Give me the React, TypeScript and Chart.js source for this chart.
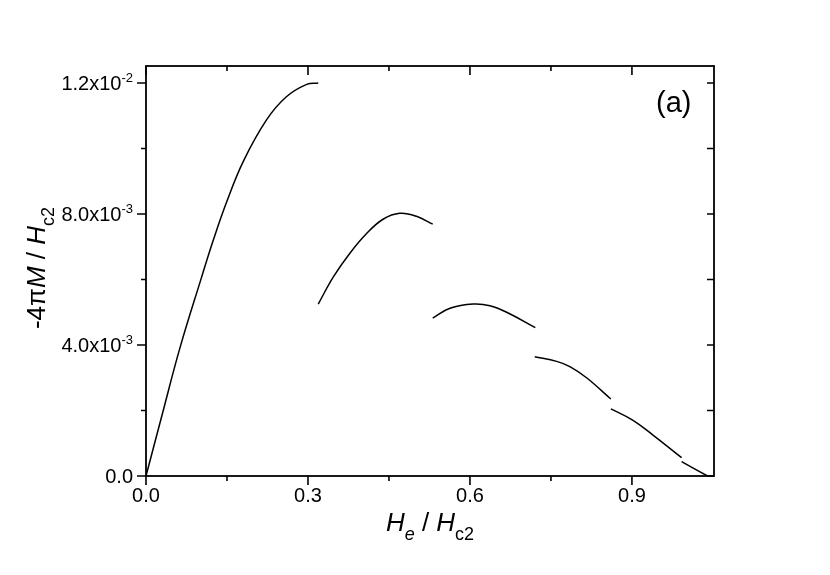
import React, { useEffect, useRef } from "react";
import { Chart, registerables } from "chart.js";

Chart.register(...registerables);

// ---- data ----
const seg1X = [0, 0.03, 0.063, 0.102, 0.125, 0.149, 0.18, 0.2235, 0.26, 0.2976, 0.319];
const seg1Y = [0, 0.00188, 0.00392, 0.00602, 0.00722, 0.00835, 0.00960, 0.01088, 0.01158, 0.01196, 0.0120];
const seg2X = [0.319, 0.347, 0.378, 0.409, 0.439, 0.47, 0.501, 0.531];
const seg2Y = [0.00525, 0.00608, 0.00681, 0.00741, 0.00784, 0.00802, 0.00793, 0.00769];
const seg3X = [0.531, 0.563, 0.606, 0.637, 0.668, 0.721];
const seg3Y = [0.00482, 0.00512, 0.00525, 0.00520, 0.00500, 0.00453];
const seg4X = [0.72, 0.7606, 0.785, 0.816, 0.861];
const seg4Y = [0.00364, 0.00350, 0.00334, 0.00300, 0.00235];
const seg5X = [0.861, 0.902, 0.939, 0.992];
const seg5Y = [0.00205, 0.00170, 0.00125, 0.00056];
const seg6X = [0.992, 1.04];
const seg6Y = [0.00044, 0];

const xMajorTicks = [0, 0.3, 0.6, 0.9];
const xMinorTicks = [0.15, 0.45, 0.75];
const xTickLabels = ["0.0", "0.3", "0.6", "0.9"];
const yMajorTicks = [0, 0.004, 0.008, 0.012];
const yMinorTicks = [0.002, 0.006, 0.01];
const yTickMantissas = ["0.0", "4.0x10", "8.0x10", "1.2x10"];
const yTickExponents = ["", "-3", "-3", "-2"];

const X_MIN = 0;
const X_MAX = 1.052;
const Y_MIN = 0;
const Y_MAX = 0.01252;

const FONT = '"Liberation Sans", Arial, sans-serif';

type Part = { t: string; size: number; italic?: boolean; dy?: number };

function drawRich(ctx: CanvasRenderingContext2D, parts: Part[], x: number, y: number, align: "left" | "center" | "right") {
  const widths = parts.map((p) => {
    ctx.font = `${p.italic ? "italic " : ""}${p.size}px ${FONT}`;
    return ctx.measureText(p.t).width;
  });
  const total = widths.reduce((a, b) => a + b, 0);
  let cx = align === "left" ? x : align === "center" ? x - total / 2 : x - total;
  ctx.textAlign = "left";
  ctx.textBaseline = "alphabetic";
  parts.forEach((p, i) => {
    ctx.font = `${p.italic ? "italic " : ""}${p.size}px ${FONT}`;
    ctx.fillText(p.t, cx, y + (p.dy || 0));
    cx += widths[i];
  });
}

const framePlugin = {
  id: "originFrame",
  afterDraw(chart: any) {
    const ctx: CanvasRenderingContext2D = chart.ctx;
    const xs = chart.scales.x;
    const ys = chart.scales.y;
    const { left, right, top, bottom } = chart.chartArea;
    ctx.save();
    ctx.strokeStyle = "#000";
    ctx.fillStyle = "#000";
    ctx.lineWidth = 1.8;
    ctx.strokeRect(left, top, right - left, bottom - top);

    const majorLen = 9;
    const minorLen = 5;
    ctx.lineWidth = 1.6;
    ctx.beginPath();
    xMajorTicks.forEach((v) => {
      const px = xs.getPixelForValue(v);
      ctx.moveTo(px, bottom);
      ctx.lineTo(px, bottom + majorLen);
      ctx.moveTo(px, top);
      ctx.lineTo(px, top + majorLen);
    });
    xMinorTicks.forEach((v) => {
      const px = xs.getPixelForValue(v);
      ctx.moveTo(px, bottom);
      ctx.lineTo(px, bottom + minorLen);
      ctx.moveTo(px, top);
      ctx.lineTo(px, top + minorLen);
    });
    yMajorTicks.forEach((v) => {
      const py = ys.getPixelForValue(v);
      ctx.moveTo(left, py);
      ctx.lineTo(left - majorLen, py);
      ctx.moveTo(right, py);
      ctx.lineTo(right - 7, py);
    });
    yMinorTicks.forEach((v) => {
      const py = ys.getPixelForValue(v);
      ctx.moveTo(left, py);
      ctx.lineTo(left - minorLen, py);
      ctx.moveTo(right, py);
      ctx.lineTo(right - 7, py);
    });
    ctx.stroke();

    // x tick labels
    xMajorTicks.forEach((v, i) => {
      const px = xs.getPixelForValue(v);
      drawRich(ctx, [{ t: xTickLabels[i], size: 20 }], px, bottom + 26, "center");
    });
    // y tick labels
    yMajorTicks.forEach((v, i) => {
      const py = ys.getPixelForValue(v);
      const parts: Part[] = [{ t: yTickMantissas[i], size: 20 }];
      if (yTickExponents[i]) parts.push({ t: yTickExponents[i], size: 13, dy: -8 });
      drawRich(ctx, parts, left - 13, py + 7, "right");
    });

    // x title
    drawRich(
      ctx,
      [
        { t: "H", size: 26, italic: true },
        { t: "e", size: 18, italic: true, dy: 9 },
        { t: " / ", size: 26 },
        { t: "H", size: 26, italic: true },
        { t: "c2", size: 18, dy: 9 },
      ],
      (left + right) / 2,
      531,
      "center"
    );

    // y title
    ctx.save();
    ctx.translate(45, (top + bottom) / 2 - 3);
    ctx.rotate(-Math.PI / 2);
    drawRich(
      ctx,
      [
        { t: "-4", size: 26 },
        { t: "π", size: 26 },
        { t: "M", size: 26, italic: true },
        { t: " / ", size: 26 },
        { t: "H", size: 26, italic: true },
        { t: "c2", size: 18, dy: 9 },
      ],
      0,
      0,
      "center"
    );
    ctx.restore();

    // panel label
    drawRich(ctx, [{ t: "(a)", size: 29 }], 656, 112, "left");
    ctx.restore();
  },
};

function seg(xsArr: number[], ysArr: number[]) {
  return {
    data: xsArr.map((x, i) => ({ x, y: ysArr[i] })),
    borderColor: "#000",
    borderWidth: 1.5,
    pointRadius: 0,
    fill: false,
    tension: 0.4,
  };
}

export default function App() {
  const ref = useRef<HTMLCanvasElement>(null);
  useEffect(() => {
    if (!ref.current) return;
    const chart = new Chart(ref.current, {
      type: "line",
      data: {
        datasets: [
          seg(seg1X, seg1Y),
          seg(seg2X, seg2Y),
          seg(seg3X, seg3Y),
          seg(seg4X, seg4Y),
          seg(seg5X, seg5Y),
          seg(seg6X, seg6Y),
        ],
      },
      options: {
        animation: false,
        responsive: false,
        devicePixelRatio: 1,
        layout: { padding: { left: 146, right: 116, top: 66, bottom: 99 } },
        plugins: { legend: { display: false }, tooltip: { enabled: false } },
        scales: {
          x: { type: "linear", min: X_MIN, max: X_MAX, display: false },
          y: { type: "linear", min: Y_MIN, max: Y_MAX, display: false },
        },
      },
      plugins: [framePlugin],
    });
    return () => chart.destroy();
  }, []);
  return (
    <div style={{ position: "fixed", left: 0, top: 0, width: 830, height: 575, background: "#fff" }}>
      <canvas ref={ref} width={830} height={575} />
    </div>
  );
}
